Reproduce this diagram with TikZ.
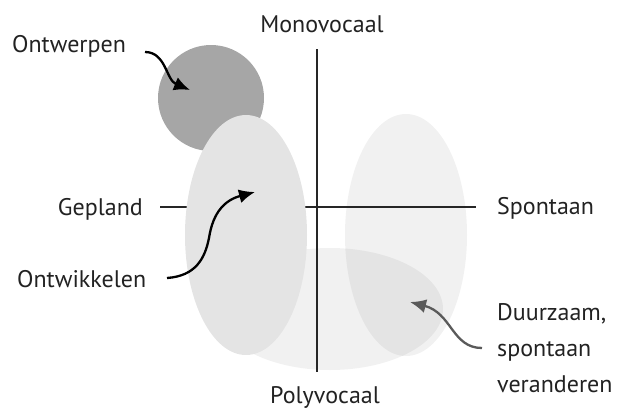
\documentclass[tikz,border=0pt]{standalone}
\usepackage{fontspec}
\setmainfont{PT Sans}
\usetikzlibrary{arrows.meta}
\definecolor{txt}{HTML}{222222}
\definecolor{circfill}{HTML}{A6A6A6}
\definecolor{leftfill}{HTML}{E4E4E4}
\definecolor{darrow}{HTML}{5A5A5A}
\tikzset{
  lbl/.style={text=txt, font=\fontsize{24}{36}\selectfont, inner sep=0pt, anchor=base},
  axis/.style={line width=1.3pt, draw=black!85},
  callout/.style={line width=2.3pt, -{Latex[length=16pt,width=14pt]}},
}
\begin{document}
\begin{tikzpicture}[x=1pt,y=-1pt]
\useasboundingbox (0,0) rectangle (619,410);
% translucent blobs
\fill[black, fill opacity=0.055] (330,309) ellipse [x radius=113pt, y radius=61pt];
\fill[black, fill opacity=0.055] (406,235) ellipse [x radius=61pt, y radius=121pt];
% axes
\coordinate (vtop) at (317,49);
\coordinate (vbot) at (317,372);
\coordinate (hleft) at (160,207);
\coordinate (hright) at (476,207);
\draw[axis] (vtop) -- (vbot);
\draw[axis] (hleft) -- (hright);
% circle and left ellipse
\fill[circfill] (211,98) circle [radius=53pt];
\fill[leftfill] (246,235) ellipse [x radius=61pt, y radius=120pt];
% labels
\node[lbl] (mono) at (322,32) {Monovocaal};
\node[lbl] (poly) at (325,403) {Polyvocaal};
\node[lbl, anchor=base east] (gepland) at (143,215) {Gepland};
\node[lbl, anchor=base west] (spontaan) at (497,214) {Spontaan};
\node[lbl, anchor=base west] (ontwerpen) at (12,52) {Ontwerpen};
\node[lbl, anchor=base west] (ontwikkelen) at (17,287) {Ontwikkelen};
\node[lbl, anchor=base west, align=left] (duurzaam) at (497,392) {Duurzaam,\\spontaan\\veranderen};
% callout arrows
\coordinate (a1s) at (145,52);
\coordinate (a1e) at (190,90);
\draw[callout] (a1s) .. controls (166,52) and (166,80) .. (a1e);
\coordinate (a2s) at (167,278);
\coordinate (a2m) at (209,238);
\coordinate (a2e) at (255,192);
\draw[callout] (a2s) .. controls (196,276) and (205,258) .. (a2m) .. controls (213,212) and (225,200) .. (a2e);
\coordinate (a3s) at (482,348);
\coordinate (a3e) at (410,302);
\draw[callout, draw=darrow, -{Latex[length=16pt,width=14pt,fill=darrow]}] (a3s) .. controls (452,348) and (452,313) .. (a3e);
\end{tikzpicture}
\end{document}
